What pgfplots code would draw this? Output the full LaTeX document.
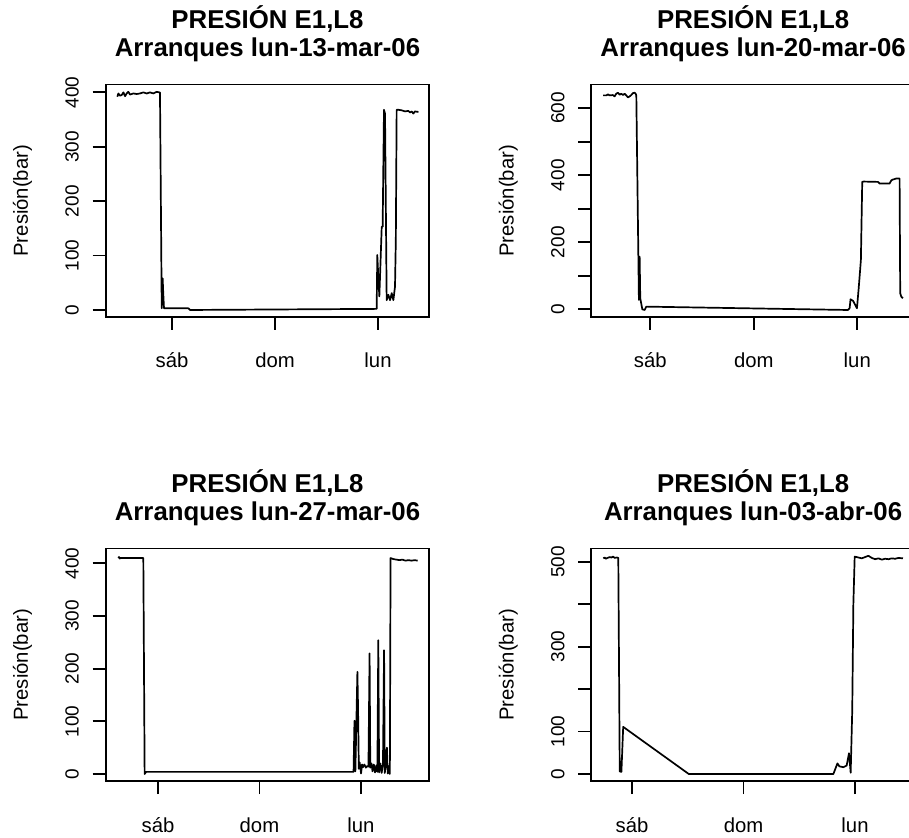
\documentclass[border=0pt]{standalone}
\usepackage{fontspec}
\setmainfont{Liberation Sans}
\usepackage{pgfplots}
\pgfplotsset{compat=1.18}
\newcommand{\tickfont}{\fontsize{19}{23}\selectfont}
\newcommand{\labfont}{\fontsize{20.3}{24}\selectfont}
\newcommand{\titlefont}{\fontsize{25.8}{30}\selectfont\bfseries}
\pgfplotsset{rpanel/.style={
  scale only axis, width=323.6pt, height=232.5pt, anchor=south west,
  axis line style={line width=1.8pt},
  cycle list={{black, mark=none}},
  every axis plot post/.append style={line width=1.7pt, line join=round, black},
  tick align=outside, major tick length=13pt, xtick pos=bottom, ytick pos=left,
  every tick/.style={line width=1.8pt, black},
  xtick={0,1,2}, xticklabels={sáb,dom,lun},
  xticklabel style={anchor=base, yshift=-38pt, font=\labfont},
  yticklabel style={xshift=-14pt, rotate=90, anchor=base, font=\tickfont},
  clip=false,
}}
\newcommand{\rtitle}[1]{%
  \node[anchor=base, yshift=56pt, font=\titlefont] at (rel axis cs:0.5,1) {PRESIÓN E1,L8};
  \node[anchor=base, yshift=28pt, font=\titlefont] at (rel axis cs:0.5,1) {#1};
  \node[xshift=-77.7pt, rotate=90, anchor=base, font=\labfont] at (rel axis cs:0,0.5) {Presión(bar)};
}
\begin{document}
\begin{tikzpicture}
\useasboundingbox (0,0) rectangle (909pt,837pt);
\clip (0,0) rectangle (909pt,837pt);
% Panel 1
\begin{axis}[rpanel, at={(105.7pt,520pt)},
  xmin=-0.644, xmax=2.498, ymin=-12.9, ymax=414.5,
  ytick={0,100,200,300,400}, yticklabels={0,100,200,300,400}]
\addplot coordinates {(-0.531,392) (-0.521,398) (-0.505,394) (-0.489,395) (-0.472,400) (-0.456,393) (-0.440,398) (-0.424,401) (-0.408,396) (-0.375,398) (-0.343,397) (-0.311,398) (-0.278,400) (-0.246,398) (-0.214,400) (-0.181,398) (-0.149,401) (-0.123,400) (-0.117,400) (-0.100,3) (-0.091,58) (-0.085,30) (-0.078,3) (0.159,3) (0.175,0) (1.987,2) (1.993,101) (2.003,60) (2.013,25) (2.036,153) (2.045,153) (2.058,368) (2.068,361) (2.084,18) (2.100,28) (2.117,18) (2.133,31) (2.149,18) (2.165,43) (2.173,130) (2.181,368) (2.197,368) (2.230,367) (2.262,365) (2.294,366) (2.311,363) (2.327,365) (2.343,361) (2.359,365) (2.392,364)};
\rtitle{Arranques lun-13-mar-06}
\end{axis}
% Panel 2
\begin{axis}[rpanel, at={(591.3pt,520pt)},
  xmin=-0.570, xmax=2.557, ymin=-22.9, ymax=670.5,
  ytick={0,100,200,300,400,500,600}, yticklabels={0,,200,,400,,600}]
\addplot coordinates {(-0.457,638) (-0.425,638) (-0.409,641) (-0.393,638) (-0.361,639) (-0.345,635) (-0.329,643) (-0.312,646) (-0.296,640) (-0.280,643) (-0.264,639) (-0.248,643) (-0.232,638) (-0.216,632) (-0.200,635) (-0.184,639) (-0.167,645) (-0.151,646) (-0.142,643) (-0.135,638) (-0.110,28) (-0.103,157) (-0.097,33) (-0.077,0) (-0.055,-2) (-0.039,8) (1.910,-2) (1.926,3) (1.935,30) (1.960,25) (1.997,3) (2.013,60) (2.025,107) (2.035,147) (2.048,380) (2.061,381) (2.200,380) (2.216,375) (2.312,375) (2.330,385) (2.345,387) (2.377,390) (2.409,390) (2.415,48) (2.425,38) (2.441,33)};
\rtitle{Arranques lun-20-mar-06}
\end{axis}
% Panel 3
\begin{axis}[rpanel, at={(105.7pt,56pt)},
  xmin=-0.516, xmax=2.675, ymin=-13.3, ymax=428.1,
  ytick={0,100,200,300,400}, yticklabels={0,100,200,300,400}]
\addplot coordinates {(-0.392,410) (-0.385,412) (-0.378,409) (-0.370,410) (-0.145,410) (-0.132,0) (-0.118,4) (1.919,4) (1.928,4) (1.937,101) (1.946,5) (1.966,194) (1.972,130) (1.980,10) (1.988,22) (1.995,12) (2.002,1) (2.012,18) (2.022,13) (2.035,18) (2.050,12) (2.062,15) (2.075,14) (2.086,229) (2.093,12) (2.105,20) (2.115,5) (2.128,18) (2.140,3) (2.152,16) (2.163,4) (2.172,254) (2.180,3) (2.193,20) (2.205,2) (2.218,18) (2.229,235) (2.236,2) (2.246,18) (2.257,50) (2.265,1) (2.276,15) (2.286,0) (2.293,410) (2.32,408) (2.35,407) (2.38,406) (2.41,407) (2.44,405) (2.47,406) (2.50,405) (2.53,406) (2.56,405)};
\rtitle{Arranques lun-27-mar-06}
\end{axis}
% Panel 4
\begin{axis}[rpanel, at={(591.3pt,56pt)},
  xmin=-0.365, xmax=2.537, ymin=-16.5, ymax=531.2,
  ytick={0,100,200,300,400,500}, yticklabels={0,100,,300,,500}]
\addplot coordinates {(-0.257,508) (-0.245,510) (-0.235,507) (-0.220,509) (-0.200,511) (-0.185,510) (-0.170,512) (-0.155,509) (-0.135,510) (-0.123,509) (-0.110,6) (-0.095,5) (-0.079,111) (0.509,0) (1.806,0) (1.842,25) (1.860,18) (1.895,16) (1.925,20) (1.946,49) (1.961,3) (1.975,150) (1.985,400) (1.997,512) (2.03,510) (2.06,508) (2.09,511) (2.12,514) (2.15,509) (2.18,506) (2.21,508) (2.24,505) (2.27,507) (2.30,506) (2.33,508) (2.36,507) (2.39,509) (2.43,508)};
\rtitle{Arranques lun-03-abr-06}
\end{axis}
\end{tikzpicture}
\end{document}
